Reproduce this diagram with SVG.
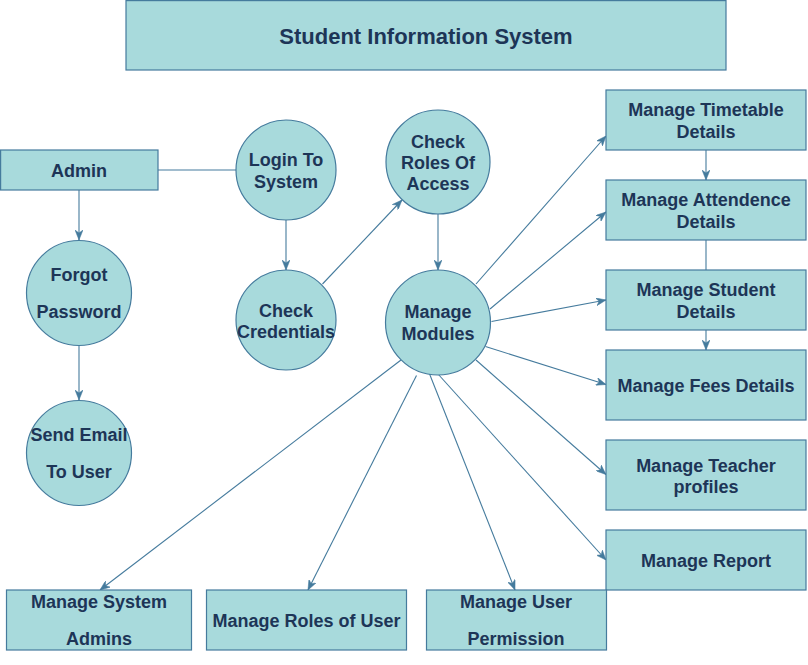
<svg xmlns="http://www.w3.org/2000/svg" width="808" height="665" viewBox="0 0 808 665">
  <style>
    .shape { fill: #A8DADC; stroke: #457B9D; stroke-width: 1.2; }
    .label { font-family: "Liberation Sans", Arial, Helvetica, sans-serif; font-weight: bold; font-size: 18px; fill: #1D3557; text-anchor: middle; }
    .title { font-size: 22px; }
    .edge { fill: none; stroke: #457B9D; stroke-width: 1.1; }
    .arrow { marker-end: url(#head); }
  </style>
  <defs>
    <marker id="head" viewBox="0 0 10 8" markerWidth="10" markerHeight="8" refX="10" refY="4" orient="auto" markerUnits="userSpaceOnUse">
      <path d="M0,0 L10,4 L0,8 L3,4 Z" fill="#457B9D" stroke="#457B9D" stroke-width="0.5"/>
    </marker>
  </defs>
  <rect width="808" height="665" fill="#ffffff"/>

  <!-- connectors -->
  <g id="connectors">
    <line class="edge" x1="158" y1="170" x2="236" y2="170"/>
    <line class="edge arrow" x1="79" y1="190" x2="79" y2="240"/>
    <line class="edge arrow" x1="79" y1="346" x2="79" y2="400"/>
    <line class="edge arrow" x1="286" y1="220" x2="286" y2="270"/>
    <line class="edge arrow" x1="322.5" y1="284" x2="402" y2="200"/>
    <line class="edge arrow" x1="438" y1="214" x2="438" y2="270"/>
    <line class="edge arrow" x1="476" y1="284" x2="606" y2="136"/>
    <line class="edge arrow" x1="490" y1="309" x2="606" y2="212"/>
    <line class="edge arrow" x1="491.5" y1="321.5" x2="606" y2="300"/>
    <line class="edge arrow" x1="485.5" y1="346.5" x2="606" y2="384.5"/>
    <line class="edge arrow" x1="476" y1="360" x2="606" y2="474.5"/>
    <line class="edge arrow" x1="438" y1="374" x2="606" y2="560"/>
    <line class="edge arrow" x1="427" y1="367.5" x2="515" y2="590"/>
    <line class="edge arrow" x1="416.5" y1="375.5" x2="308" y2="590"/>
    <line class="edge arrow" x1="401" y1="360" x2="100" y2="590"/>
    <line class="edge arrow" x1="706" y1="150" x2="706" y2="180"/>
    <line class="edge" x1="706" y1="240" x2="706" y2="270"/>
    <line class="edge arrow" x1="706" y1="330" x2="706" y2="350"/>
  </g>

  <g id="title">
    <rect class="shape" x="126" y="0.6" width="600" height="69.4"/>
    <text class="label title" x="426" y="44">Student Information System</text>
  </g>

  <g id="admin">
    <rect class="shape" x="0.6" y="150" width="157.4" height="40"/>
    <text class="label" x="79" y="177">Admin</text>
  </g>

  <g id="login">
    <circle class="shape" cx="286" cy="170" r="50"/>
    <text class="label" x="286" y="166">Login To</text>
    <text class="label" x="286" y="188">System</text>
  </g>

  <g id="check-credentials">
    <circle class="shape" cx="286" cy="320" r="50"/>
    <text class="label" x="286" y="317">Check</text>
    <text class="label" x="286" y="338">Credentials</text>
  </g>

  <g id="forgot-password">
    <circle class="shape" cx="79" cy="293" r="52.5"/>
    <text class="label" x="79" y="281">Forgot</text>
    <text class="label" x="79" y="318">Password</text>
  </g>

  <g id="send-email">
    <circle class="shape" cx="79" cy="453" r="52.5"/>
    <text class="label" x="79" y="441">Send Email</text>
    <text class="label" x="79" y="478">To User</text>
  </g>

  <g id="check-roles">
    <circle class="shape" cx="438" cy="162" r="52"/>
    <text class="label" x="438" y="148">Check</text>
    <text class="label" x="438" y="169">Roles Of</text>
    <text class="label" x="438" y="190">Access</text>
  </g>

  <g id="manage-modules">
    <circle class="shape" cx="438" cy="322.5" r="52.5"/>
    <text class="label" x="438" y="318">Manage</text>
    <text class="label" x="438" y="340">Modules</text>
  </g>

  <g id="timetable">
    <rect class="shape" x="606" y="90" width="200" height="60"/>
    <text class="label" x="706" y="116">Manage Timetable</text>
    <text class="label" x="706" y="138">Details</text>
  </g>

  <g id="attendence">
    <rect class="shape" x="606" y="180" width="200" height="60"/>
    <text class="label" x="706" y="206">Manage Attendence</text>
    <text class="label" x="706" y="228">Details</text>
  </g>

  <g id="student">
    <rect class="shape" x="606" y="270" width="200" height="60"/>
    <text class="label" x="706" y="296">Manage Student</text>
    <text class="label" x="706" y="318">Details</text>
  </g>

  <g id="fees">
    <rect class="shape" x="606" y="350" width="200" height="70"/>
    <text class="label" x="706" y="392">Manage Fees Details</text>
  </g>

  <g id="teacher">
    <rect class="shape" x="606" y="440" width="200" height="70"/>
    <text class="label" x="706" y="472">Manage Teacher</text>
    <text class="label" x="706" y="493">profiles</text>
  </g>

  <g id="report">
    <rect class="shape" x="606" y="530" width="200" height="60"/>
    <text class="label" x="706" y="567">Manage Report</text>
  </g>

  <g id="system-admins">
    <rect class="shape" x="6.5" y="590" width="185" height="60"/>
    <text class="label" x="99" y="608">Manage System</text>
    <text class="label" x="99" y="645">Admins</text>
  </g>

  <g id="roles-of-user">
    <rect class="shape" x="206.5" y="590" width="200" height="60"/>
    <text class="label" x="306.5" y="627">Manage Roles of User</text>
  </g>

  <g id="user-permission">
    <rect class="shape" x="426.5" y="590" width="180" height="60"/>
    <text class="label" x="516" y="608">Manage User</text>
    <text class="label" x="516" y="645">Permission</text>
  </g>
</svg>
